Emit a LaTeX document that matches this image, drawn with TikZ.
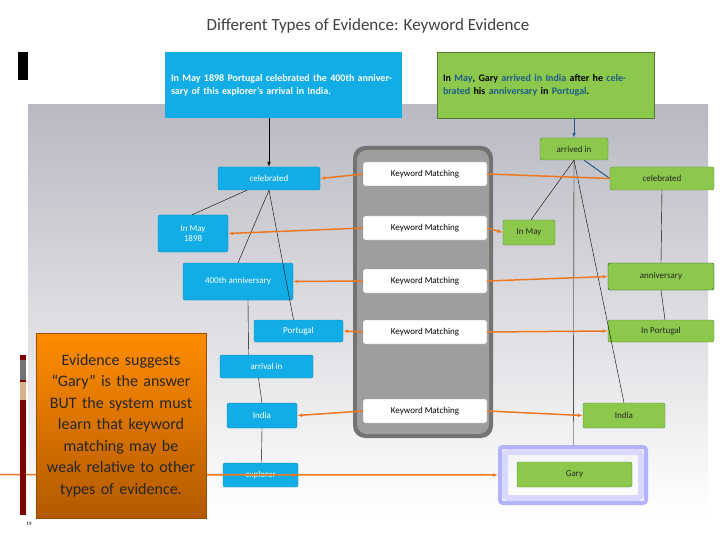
\documentclass[tikz,border=0pt]{standalone}
\usepackage{fontspec}
\setmainfont{Carlito}
\usetikzlibrary{arrows.meta}
\definecolor{bluebox}{HTML}{12ADE6}
\definecolor{greenbox}{HTML}{8CC84B}
\definecolor{kwblue}{HTML}{1F5C8A}
\definecolor{orng}{HTML}{EE7722}
\begin{document}
\begin{tikzpicture}[x=1pt,y=-1pt,
  bl/.style={draw=bluebox!80!black,fill=bluebox,text=white,rounded corners=2pt,font=\fontsize{9}{10}\selectfont,align=center,inner sep=2pt},
  gr/.style={draw=greenbox!70!black,fill=greenbox,text=black!85,rounded corners=2pt,font=\fontsize{9}{10}\selectfont,align=center,inner sep=2pt},
  km/.style={fill=white,draw=black!40,rounded corners=2pt,minimum width=124pt,minimum height=24pt,font=\fontsize{9}{10}\selectfont,text=black},
  oa/.style={orng,line width=1.5pt,-{Latex[length=5pt]}},
  tl/.style={black,line width=0.4pt}]
\useasboundingbox (0,0) rectangle (720,540);
\fill[white] (0,0) rectangle (720,540);
% title
\node[text=black!75,font=\fontsize{17}{20}\selectfont] (title) at (368,26) {Different Types of Evidence: Keyword Evidence};
\fill[black] (18,52) rectangle (28,80);
% panel
\shade[top color=black!25!blue!10!gray!50,bottom color=white] (28,105) rectangle (708,515);
% top boxes
\node[fill=bluebox,text=white,minimum width=237pt,minimum height=66pt,text width=225pt,align=left,inner sep=5pt,font=\bfseries\fontsize{10}{13}\selectfont] (q) at (283.5,85)
  {In May 1898 Portugal celebrated the 400th anniversary of this explorer's arrival in India.};
\node[fill=greenbox,draw=greenbox!60!black,minimum width=217pt,minimum height=66pt,text width=205pt,align=left,inner sep=5pt,font=\bfseries\fontsize{10}{13}\selectfont] (e) at (545.5,85)
  {In \textcolor{kwblue}{May}, Gary \textcolor{kwblue}{arrived in India} after he \textcolor{kwblue}{celebrated} his \textcolor{kwblue}{anniversary} in \textcolor{kwblue}{Portugal}.};
% central column
\fill[black!55,rounded corners=12pt] (353,146) rectangle (493,438);
\fill[black!38,rounded corners=10pt] (357,150) rectangle (489,434);
\node[km] (k1) at (425,174) {Keyword Matching};
\node[km] (k2) at (425,228) {Keyword Matching};
\node[km] (k3) at (425,281) {Keyword Matching};
\node[km] (k4) at (425,332) {Keyword Matching};
\node[km] (k5) at (425,411) {Keyword Matching};
% left nodes
\node[bl,minimum width=102pt,minimum height=23pt] (lc) at (269,178.5) {celebrated};
\node[bl,minimum width=70pt,minimum height=37pt] (lm) at (193,233.5) {In May\\1898};
\node[bl,minimum width=110pt,minimum height=37pt] (la) at (238,281.5) {400th anniversary};
\node[bl,minimum width=89pt,minimum height=22pt] (lp) at (298.5,331) {Portugal};
\node[bl,minimum width=93pt,minimum height=23pt] (lr) at (266.5,366.5) {arrival in};
\node[bl,minimum width=70pt,minimum height=25pt] (li) at (262,415.5) {India};
\node[bl,minimum width=75pt,minimum height=24pt] (lx) at (260.5,475) {explorer};
% right nodes
\node[gr,minimum width=68pt,minimum height=22pt] (ra) at (574,149) {arrived in};
\node[gr,minimum width=104pt,minimum height=23pt] (rc) at (662,178.5) {celebrated};
\node[gr,minimum width=52pt,minimum height=25pt] (rm) at (529,232.5) {In May};
\node[gr,minimum width=106pt,minimum height=27pt,draw=green!30!black] (rn) at (661,276.5) {anniversary};
\node[gr,minimum width=106pt,minimum height=22pt] (rp) at (661,331) {In Portugal};
\node[gr,minimum width=82pt,minimum height=25pt] (ri) at (624,415.5) {India};
\draw[blue!30,line width=4pt,rounded corners=3pt] (500,447) rectangle (646,503);
\draw[blue!15,line width=6pt,rounded corners=3pt] (505,452) rectangle (641,498);
\node[gr,minimum width=115pt,minimum height=25pt] (rg) at (574.5,474.5) {Gary};
% parse tree lines
\draw[black,line width=0.8pt,-{Latex[length=5pt]}] (q.south -| lc) -- (lc.north);
\draw[kwblue,line width=1pt,-{Latex[length=5pt]}] (e.south -| ra) -- (ra.north);
\draw[tl] ([xshift=-22pt]lc.south) -- ([xshift=-1pt]lm.north);
\draw[tl] (lc.south) -- ([xshift=0pt]la.north);
\draw[tl] (lc.south) -- ([xshift=-5pt]lp.north);
\draw[tl] ([xshift=10pt]la.south) -- ([xshift=-18pt]lr.north);
\draw[tl] ([xshift=-8pt]lr.south) -- (li.north);
\draw[tl] (li.south) -- ([xshift=1pt]lx.north);
\draw[tl] (ra.south) -- ([xshift=2pt]rm.north);
\draw[tl] (ra.south) -- ([xshift=-1pt]rg.north |- 0,445);
\draw[tl] (ra.south) -- (ri.north);
\draw[kwblue,line width=1pt] ([xshift=10pt]ra.south) -- (rc.west);
\draw[tl] (rc.south) -- (rn.north);
\draw[tl] (rn.south) -- ([xshift=4pt]rp.north);
% orange matching arrows
\draw[oa] (k1.west) -- (lc.east);
\draw[orng,line width=1.5pt] (k1.east) -- (rc.west);
\draw[oa] (k2.west) -- (lm.east);
\draw[oa] (k2.east) -- (rm.west);
\draw[oa] (k3.west) -- (la.east);
\draw[oa] (k3.east) -- (rn.west);
\draw[oa] (k4.west) -- (lp.east);
\draw[oa] (k4.east) -- (rp.west);
\draw[oa] (k5.west) -- (li.east);
\draw[oa] (k5.east) -- (ri.west);
\draw[orng,line width=1.5pt,{Latex[length=5pt]}-{Latex[length=5pt]}] (lx.east) -- ([xshift=-2pt]rg.west -| 0,0 |- rg.west) -- (498,475);
% evidence box
\fill[red!50!black] (20,355) rectangle (26,515);
\fill[black!55] (20,360) rectangle (26,380);
\fill[brown!60] (20,382) rectangle (26,400);
\node[font=\fontsize{5}{6}\selectfont] (pg) at (29,524) {19};
\node[top color=orange!90!yellow,bottom color=orange!70!black,draw=orange!60!black,minimum width=170pt,minimum height=185pt,text width=160pt,align=center,text=black!85,font=\fontsize{16}{21.5}\selectfont] (ev) at (121,425.5)
  {Evidence suggests ``Gary'' is the answer BUT the system must learn that keyword matching may be weak relative to other types of evidence.};
\end{tikzpicture}
\end{document}
